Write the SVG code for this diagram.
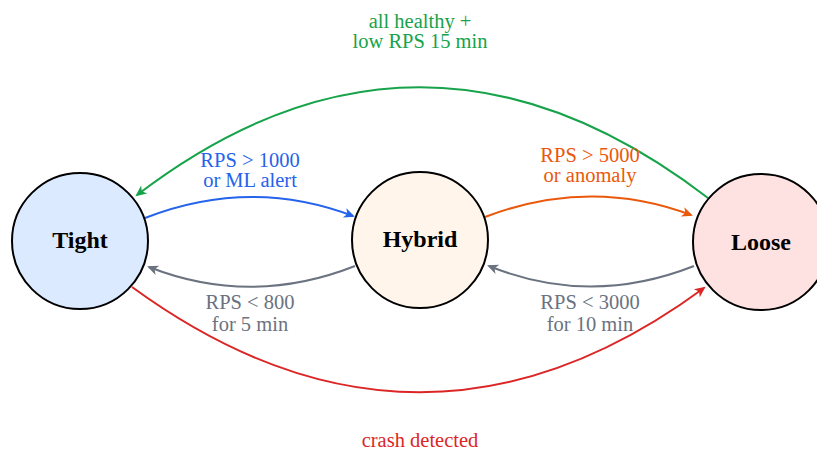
<svg xmlns="http://www.w3.org/2000/svg" width="817" height="451" viewBox="0 0 817 451">
  <style>
    .node { stroke: #000; stroke-width: 2; }
    .name { font-family: "Liberation Serif", "DejaVu Serif", serif; font-size: 24px; font-weight: bold; fill: #000; text-anchor: middle; }
    .lbl { font-family: "Liberation Serif", "DejaVu Serif", serif; font-size: 20.5px; text-anchor: middle; }
    .edge { fill: none; stroke-width: 2; }
  </style>
  <defs>
    <marker id="ah-blue" viewBox="-10 -6 13 12" refX="0" refY="0" markerWidth="13" markerHeight="12" markerUnits="userSpaceOnUse" orient="auto">
      <path d="M2,0 L-9,-5 L-6,0 L-9,5 Z" fill="#2563eb"/>
    </marker>
    <marker id="ah-orange" viewBox="-10 -6 13 12" refX="0" refY="0" markerWidth="13" markerHeight="12" markerUnits="userSpaceOnUse" orient="auto">
      <path d="M2,0 L-9,-5 L-6,0 L-9,5 Z" fill="#ea580c"/>
    </marker>
    <marker id="ah-gray" viewBox="-10 -6 13 12" refX="0" refY="0" markerWidth="13" markerHeight="12" markerUnits="userSpaceOnUse" orient="auto">
      <path d="M2,0 L-9,-5 L-6,0 L-9,5 Z" fill="#6b7280"/>
    </marker>
    <marker id="ah-green" viewBox="-10 -6 13 12" refX="0" refY="0" markerWidth="13" markerHeight="12" markerUnits="userSpaceOnUse" orient="auto">
      <path d="M2,0 L-9,-5 L-6,0 L-9,5 Z" fill="#16a34a"/>
    </marker>
    <marker id="ah-red" viewBox="-10 -6 13 12" refX="0" refY="0" markerWidth="13" markerHeight="12" markerUnits="userSpaceOnUse" orient="auto">
      <path d="M2,0 L-9,-5 L-6,0 L-9,5 Z" fill="#dc2626"/>
    </marker>
  </defs>

  <rect width="817" height="451" fill="#fff"/>

  <!-- transitions -->
  <g id="connectors">
    <path class="edge" stroke="#2563eb" d="M145,218 Q250,177 353,216" marker-end="url(#ah-blue)"/>
    <path class="edge" stroke="#6b7280" d="M355,266 Q251,307 149,267" marker-end="url(#ah-gray)"/>
    <path class="edge" stroke="#ea580c" d="M485,217 Q590,177 691,215" marker-end="url(#ah-orange)"/>
    <path class="edge" stroke="#6b7280" d="M694,266 Q590,307 489,266" marker-end="url(#ah-gray)"/>
    <path class="edge" stroke="#16a34a" d="M708,198 Q421,-22 137,195" marker-end="url(#ah-green)"/>
    <path class="edge" stroke="#dc2626" d="M132,287 Q420,497 704,288" marker-end="url(#ah-red)"/>

    <text class="lbl" fill="#2563eb" x="250" y="167">RPS &gt; 1000</text>
    <text class="lbl" fill="#2563eb" x="250" y="187">or ML alert</text>
    <text class="lbl" fill="#6b7280" x="250" y="309">RPS &lt; 800</text>
    <text class="lbl" fill="#6b7280" x="250" y="331">for 5 min</text>
    <text class="lbl" fill="#ea580c" x="590" y="162">RPS &gt; 5000</text>
    <text class="lbl" fill="#ea580c" x="590" y="182">or anomaly</text>
    <text class="lbl" fill="#6b7280" x="590" y="309">RPS &lt; 3000</text>
    <text class="lbl" fill="#6b7280" x="590" y="331">for 10 min</text>
    <text class="lbl" fill="#16a34a" x="420" y="28">all healthy +</text>
    <text class="lbl" fill="#16a34a" x="420" y="48">low RPS 15 min</text>
    <text class="lbl" fill="#dc2626" x="420" y="447">crash detected</text>
  </g>

  <g id="tight">
    <circle class="node" cx="80" cy="241" r="68" fill="#dbeafe"/>
    <text class="name" x="80" y="248">Tight</text>
  </g>
  <g id="hybrid">
    <circle class="node" cx="420" cy="240" r="68" fill="#fff5eb"/>
    <text class="name" x="420" y="247">Hybrid</text>
  </g>
  <g id="loose">
    <circle class="node" cx="761" cy="242" r="68" fill="#fee2e2"/>
    <text class="name" x="761" y="250">Loose</text>
  </g>
</svg>
